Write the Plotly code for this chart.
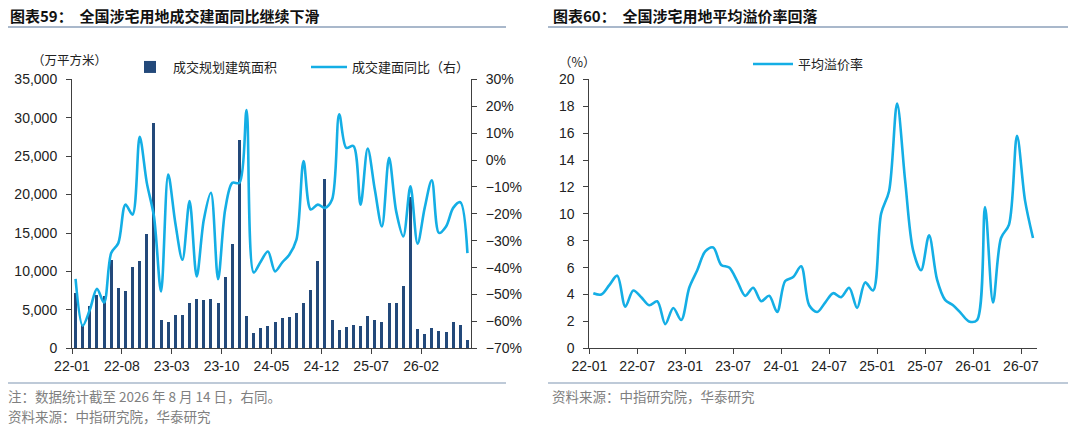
import plotly.graph_objects as go

# ---------------- data ----------------
months = ["22-01", "22-02", "22-03", "22-04", "22-05", "22-06", "22-07", "22-08", "22-09", "22-10", "22-11", "22-12",
          "23-01", "23-02", "23-03", "23-04", "23-05", "23-06", "23-07", "23-08", "23-09", "23-10", "23-11", "23-12",
          "24-01", "24-02", "24-03", "24-04", "24-05", "24-06", "24-07", "24-08", "24-09", "24-10", "24-11", "24-12",
          "25-01", "25-02", "25-03", "25-04", "25-05", "25-06", "25-07", "25-08", "25-09", "25-10", "25-11", "25-12",
          "26-01", "26-02", "26-03", "26-04", "26-05", "26-06", "26-07", "26-08"]

# 成交规划建筑面积（万平方米）
area = [7100, 3000, 5500, 6900, 6800, 11400, 7800, 7400, 10600, 11300, 14800, 29300,
        3700, 3400, 4300, 4300, 5800, 6400, 6200, 6400, 5900, 9200, 13500, 27000,
        4200, 2000, 2600, 2900, 3400, 3900, 4000, 4500, 5900, 7500, 11300, 22000,
        3600, 2300, 2700, 3000, 2800, 4100, 3600, 3400, 5900, 5900, 8100, 19700,
        2500, 1800, 2600, 2200, 2100, 3400, 3000, 1000]

# 成交建面同比（%）
yoy = [-44.2, -61.6, -55.7, -47.9, -53.0, -34.6, -30.9, -16.6, -20.3, 8.6, -8.5, -20.9,
       -48.9, -5.4, -23.4, -37.1, -15.3, -43.3, -22.2, -12.2, -44.3, -18.4, -8.5, -8.5,
       18.6, -41.8, -37.7, -34.0, -41.4, -38.1, -35.2, -29.6, -0.4, -18.4, -16.6, -17.8,
       -14.7, 17.0, 4.5, 5.2, -16.6, 4.3, -11.0, -24.7, 0.8, -19.1, -28.4, -9.8,
       -31.1, -17.8, -7.5, -27.1, -24.7, -17.8, -15.7, -34.6]

# 平均溢价率（%）
premium = [4.1, 4.0, 4.7, 5.4, 3.1, 4.3, 3.8, 3.2, 3.5, 1.8, 3.0, 2.1,
           4.5, 5.8, 7.2, 7.5, 6.2, 6.0, 5.0, 3.9, 4.5, 3.5, 3.9, 2.7,
           5.0, 5.3, 6.1, 3.2, 2.7, 3.4, 4.1, 3.8, 4.5, 3.0, 4.9, 4.3,
           10.0, 11.7, 18.2, 12.5, 7.3, 5.8, 8.4, 5.1, 3.6, 3.2, 2.6, 2.0,
           2.1, 10.5, 3.4, 8.2, 9.2, 15.8, 11.0, 8.2]

left_tick_labels = ["22-01", "22-08", "23-03", "23-10", "24-05", "24-12", "25-07", "26-02"]
right_tick_labels = ["22-01", "22-07", "23-01", "23-07", "24-01", "24-07", "25-01", "25-07", "26-01", "26-07"]

# ---------------- styling ----------------
W, H = 1080, 432
BAR = "#23497A"
LINE = "#14AEE5"
AXIS = "#404040"
TXT = "#222222"
GREY = "#7F7F7F"
RULE = "#A9B8CB"
NUMFONT = "Liberation Sans, Arial, sans-serif"
CJK = "Noto Sans CJK SC, sans-serif"

xpos = [i + 0.5 for i in range(len(months))]
left_tickvals = [months.index(m) for m in left_tick_labels]
right_tickvals = [months.index(m) for m in right_tick_labels]

def px_x(p):
    return p / W

def px_y(p):
    return 1 - p / H

ydom = [px_y(348.3), px_y(79.3)]

fig = go.Figure()
fig.add_trace(go.Bar(
    x=xpos, y=area, name="成交规划建筑面积", marker=dict(color=BAR, line=dict(width=0)),
    width=0.42, xaxis="x", yaxis="y", legend="legend", customdata=months,
    hovertemplate="%{customdata}: %{y:,}<extra></extra>"))
fig.add_trace(go.Scatter(
    x=xpos, y=yoy, name="成交建面同比（右）", mode="lines",
    line=dict(color=LINE, width=2.6, shape="spline", smoothing=0.9),
    xaxis="x", yaxis="y2", legend="legend", customdata=months,
    hovertemplate="%{customdata}: %{y}%<extra></extra>"))
fig.add_trace(go.Scatter(
    x=xpos, y=premium, name="平均溢价率", mode="lines",
    line=dict(color=LINE, width=2.6, shape="spline", smoothing=0.9),
    xaxis="x2", yaxis="y3", legend="legend2", customdata=months,
    hovertemplate="%{customdata}: %{y}%<extra></extra>"))

tickfont = dict(family=NUMFONT, size=14, color=TXT)
common = dict(showline=True, linecolor=AXIS, linewidth=1, ticks="outside", ticklen=5,
              tickcolor=AXIS, tickwidth=1, showgrid=False, zeroline=False, tickfont=tickfont,
              automargin=False)

fig.update_layout(
    width=W, height=H, margin=dict(l=0, r=0, t=0, b=0, autoexpand=False),
    paper_bgcolor="white", plot_bgcolor="white",
    bargap=0,
    xaxis=dict(domain=[px_x(72), px_x(471)], anchor="y", range=[0, 56],
               tickmode="array", tickvals=left_tickvals, ticktext=left_tick_labels, **common),
    yaxis=dict(domain=ydom, anchor="x", range=[0, 35000], dtick=5000, tickformat=",",
               ticklabelstandoff=6, **common),
    yaxis2=dict(overlaying="y", anchor="x", side="right", range=[-70, 30], dtick=10,
                ticksuffix="%", ticklabelstandoff=6, **common),
    xaxis2=dict(domain=[px_x(589.3), px_x(1037)], anchor="y3", range=[0, 56],
                tickmode="array", tickvals=right_tickvals, ticktext=right_tick_labels, **common),
    yaxis3=dict(domain=ydom, anchor="x2", range=[0, 20], dtick=2,
                ticklabelstandoff=6, **common),
    legend=dict(orientation="h", x=px_x(127), y=px_y(67), xanchor="left", yanchor="middle",
                bgcolor="rgba(0,0,0,0)", font=dict(family=CJK, size=13, color=TXT),
                itemwidth=36, tracegroupgap=0, entrywidth=128),
    legend2=dict(orientation="h", x=px_x(748), y=px_y(64), xanchor="left", yanchor="middle",
                 bgcolor="rgba(0,0,0,0)", font=dict(family=CJK, size=13, color=TXT),
                 itemwidth=40),
    showlegend=True,
    hovermode="closest",
)

ann = []
def text(x, y, s, size, color=TXT, bold=False, xanchor="left", family=CJK):
    ann.append(dict(x=px_x(x), y=px_y(y), xref="paper", yref="paper", text=(f"<b>{s}</b>" if bold else s),
                    showarrow=False, xanchor=xanchor, yanchor="middle",
                    font=dict(family=family, size=size, color=color)))

text(8, 16, "图表59：  全国涉宅用地成交建面同比继续下滑", 15, color="#111111", bold=True)
text(551, 16, "图表60：  全国涉宅用地平均溢价率回落", 15, color="#111111", bold=True)
text(30, 60, "（万平方米）", 12.5)
text(577, 62, "（%）", 12.5, xanchor="center")
text(6, 396, "注：数据统计截至 2026 年 8 月 14 日，右同。", 13.5, color=GREY)
text(6, 416, "资料来源：中指研究院，华泰研究", 13.5, color=GREY)
text(550, 396, "资料来源：中指研究院，华泰研究", 13.5, color=GREY)
fig.update_layout(annotations=ann)

shapes = []
for x0, x1 in [(8, 506), (548, 1068)]:
    for yy, w in [(27, 2), (383, 1.5)]:
        shapes.append(dict(type="line", xref="paper", yref="paper", x0=px_x(x0), x1=px_x(x1),
                           y0=px_y(yy), y1=px_y(yy), line=dict(color=RULE, width=w)))
fig.update_layout(shapes=shapes)

fig.write_html("out.html", include_plotlyjs=True, config={"displayModeBar": False},
               post_script="document.body.style.margin='0';document.body.style.overflow='hidden';")
